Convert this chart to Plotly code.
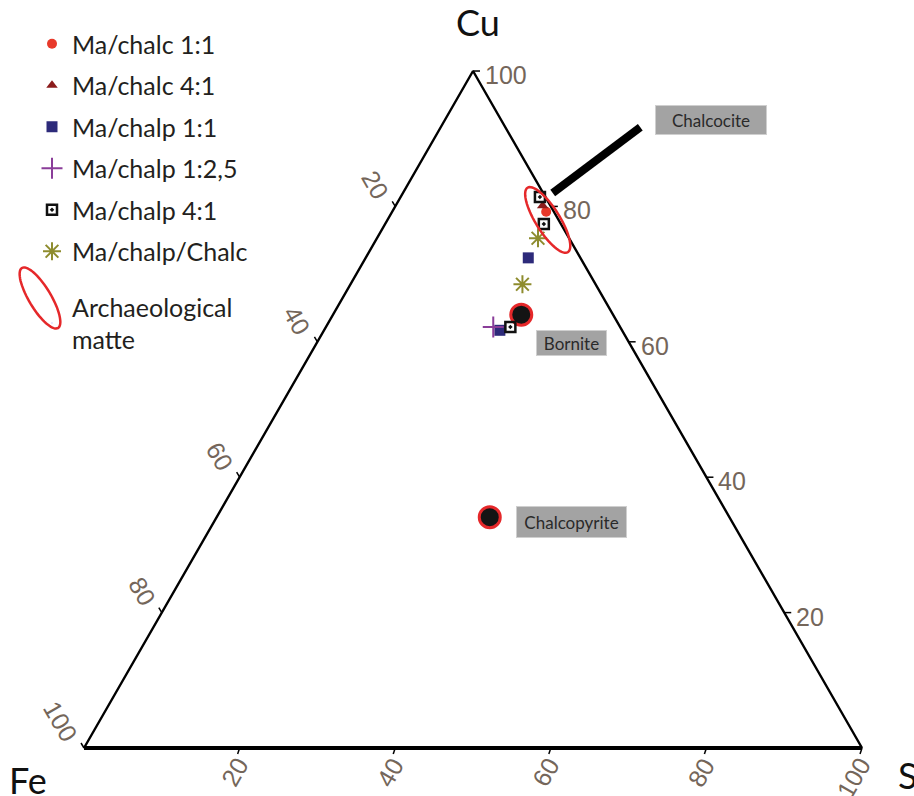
"""
Cu-Fe-S ternary diagram: experimental mattes vs. mineral compositions
"""

import numpy as np
import plotly.graph_objects as go

# -----------------------------------------
# DATA  (wt % Cu / Fe / S)
# -----------------------------------------
chalc_1_1_cu = [79.2]
chalc_1_1_fe = [1.0]
chalc_1_1_s = [19.8]

chalc_4_1_cu = [80.1]
chalc_4_1_fe = [1.0]
chalc_4_1_s = [18.9]

chalp_1_1_cu = [72.4, 61.7]
chalp_1_1_fe = [6.7, 15.7]
chalp_1_1_s = [20.9, 22.6]

chalp_1_25_cu = [62.2]
chalp_1_25_fe = [16.3]
chalp_1_25_s = [21.5]

chalp_4_1_cu = [81.4, 77.4, 62.2]
chalp_4_1_fe = [0.7, 2.2, 14.1]
chalp_4_1_s = [17.9, 20.4, 23.7]

chalp_chalc_cu = [75.3, 68.5]
chalp_chalc_fe = [4.0, 9.4]
chalp_chalc_s = [20.7, 22.1]

# reference minerals
mineral_names = ["Bornite", "Chalcopyrite"]
mineral_cu = [64.0, 34.1]
mineral_fe = [11.8, 30.8]
mineral_s = [24.2, 35.1]

# archaeological matte field (centre of the ellipse)
matte_cu = 78.0
matte_s = 20.6

tick_values = [20, 40, 60, 80, 100]
tick_labels = ["20", "40", "60", "80", "100"]

# -----------------------------------------
# SETTINGS
# -----------------------------------------
W, H = 914, 796
X_RANGE = [-10.80, 106.68]
Y_RANGE = [-7.09, 110.49]
KX = W / (X_RANGE[1] - X_RANGE[0])   # px per x unit
KY = H / (Y_RANGE[1] - Y_RANGE[0])   # px per y unit

TEXT_FONT = "Lato"
TICK_FONT = dict(family="Liberation Sans, Arial", size=25, color="#74665a")
LABEL_FONT = dict(family=TEXT_FONT, size=17, color="#2a2a2a")
RED = "#e5282a"


def to_xy(cu, s):
    """Cu at the top, Fe bottom-left, S bottom-right."""
    cu = np.asarray(cu, dtype=float)
    s = np.asarray(s, dtype=float)
    return s + cu / 2, cu


def shift(x, y, dx_px, dy_px):
    """move a data point by screen pixels (dy down)"""
    return x + dx_px / KX, y - dy_px / KY


def ellipse_path(cx, cy, a_px, b_px, angle_deg, to_ref):
    t = np.linspace(0, 2 * np.pi, 73)
    th = np.radians(angle_deg)
    dx = a_px * np.cos(t) * np.cos(th) - b_px * np.sin(t) * np.sin(th)
    dy = a_px * np.cos(t) * np.sin(th) + b_px * np.sin(t) * np.cos(th)
    xs, ys = to_ref(cx, cy, dx, dy)
    return "M" + "L".join(f"{x:.4f},{y:.4f}" for x, y in zip(xs, ys)) + "Z"


fig = go.Figure()

# -----------------------------------------
# Triangle frame + ticks
# -----------------------------------------
apex = to_xy(100, 0)
fe_corner = to_xy(0, 0)
s_corner = to_xy(0, 100)

fig.add_trace(go.Scatter(
    x=[fe_corner[0], apex[0], s_corner[0]],
    y=[fe_corner[1], apex[1], s_corner[1]],
    mode="lines", line=dict(color="black", width=2.4),
    showlegend=False, hoverinfo="skip"
))
fig.add_trace(go.Scatter(
    x=[fe_corner[0], s_corner[0]], y=[fe_corner[1], s_corner[1]],
    mode="lines", line=dict(color="black", width=4),
    showlegend=False, hoverinfo="skip"
))

tx, ty = [], []
for v in tick_values:
    # Cu ticks on the right edge
    x0, y0 = to_xy(v, 100 - v)
    x1, y1 = shift(x0, y0, 7, 0)
    tx += [x0, x1, None]
    ty += [y0, y1, None]
    # S ticks on the bottom edge
    x0, y0 = to_xy(0, v)
    x1, y1 = shift(x0, y0, -2, 6)
    tx += [x0, x1, None]
    ty += [y0, y1, None]
    # Fe ticks on the left edge
    x0, y0 = to_xy(100 - v, 0)
    x1, y1 = shift(x0, y0, -3, -5)
    tx += [x0, x1, None]
    ty += [y0, y1, None]

fig.add_trace(go.Scatter(
    x=tx, y=ty, mode="lines", line=dict(color="black", width=1.5),
    showlegend=False, hoverinfo="skip"
))

annotations = []
for v, lab in zip(tick_values, tick_labels):
    L = 14 * len(lab)
    # right edge (Cu), upright
    x, y = to_xy(v, 100 - v)
    annotations.append(dict(x=float(x), y=float(y), text=lab, showarrow=False,
                            xanchor="left", yanchor="middle", xshift=10, yshift=-4,
                            font=TICK_FONT))
    # bottom edge (S), rotated
    x, y = to_xy(0, v)
    dx, dy = 2 - L / 4, 12 + 0.433 * L
    annotations.append(dict(x=float(x), y=float(y), text=lab, showarrow=False,
                            textangle=-60, xanchor="center", yanchor="middle",
                            xshift=dx, yshift=-dy, font=TICK_FONT))
    # left edge (Fe), rotated
    x, y = to_xy(100 - v, 0)
    dx, dy = -13 - L / 4, -9 - 0.433 * L
    annotations.append(dict(x=float(x), y=float(y), text=lab, showarrow=False,
                            textangle=60, xanchor="center", yanchor="middle",
                            xshift=dx, yshift=-dy, font=TICK_FONT))

# corner titles
title_font = dict(family=TEXT_FONT, size=36, color="#111111")
annotations += [
    dict(x=float(apex[0]), y=float(apex[1]), text="Cu", showarrow=False,
         xshift=5, yshift=49, font=title_font),
    dict(x=float(fe_corner[0]), y=float(fe_corner[1]), text="Fe", showarrow=False,
         xshift=-56, yshift=-32, font=title_font),
    dict(x=float(s_corner[0]), y=float(s_corner[1]), text="S", showarrow=False,
         xshift=46, yshift=-27, font=title_font),
]

# -----------------------------------------
# Reference minerals (big black dots)
# -----------------------------------------
mx, my = to_xy(mineral_cu, mineral_s)
fig.add_trace(go.Scatter(
    x=mx, y=my, mode="markers",
    marker=dict(symbol="circle", size=21, color="#141414",
                line=dict(color=RED, width=3)),
    text=mineral_names, showlegend=False,
    hovertemplate="%{text}<extra></extra>"
))

# -----------------------------------------
# Matte series
# -----------------------------------------
series = [
    ("Ma/chalc 1:1", chalc_1_1_cu, chalc_1_1_s,
     dict(symbol="circle", size=10, color="#e8392a")),
    ("Ma/chalc 4:1", chalc_4_1_cu, chalc_4_1_s,
     dict(symbol="triangle-up", size=10, color="#8b1c1c")),
    ("Ma/chalp 1:1", chalp_1_1_cu, chalp_1_1_s,
     dict(symbol="square", size=11, color="#2d2a7a")),
    ("Ma/chalp 1:2,5", chalp_1_25_cu, chalp_1_25_s,
     dict(symbol="cross-thin-open", size=15, color="#8a3d99", line=dict(width=2))),
    ("Ma/chalp 4:1", chalp_4_1_cu, chalp_4_1_s,
     dict(symbol="square-open-dot", size=10, color="#111111", line=dict(width=2.5))),
    ("Ma/chalp/Chalc", chalp_chalc_cu, chalp_chalc_s,
     dict(symbol="asterisk-open", size=15, color="#8e8c2e", line=dict(width=2))),
]

for name, cu, s, marker in series:
    x, y = to_xy(cu, s)
    fig.add_trace(go.Scatter(
        x=x, y=y, mode="markers", name=name, marker=marker,
        legendgroup=name, legend="legend",
        hovertemplate=name + "<br>Cu %{y:.1f}<extra></extra>"
    ))

# legend entry for the ellipse (icon drawn as a shape below)
fig.add_trace(go.Scatter(
    x=[None], y=[None], mode="markers", marker=dict(opacity=0, size=2),
    name="Archaeological<br>matte", legend="legend2"
))

# -----------------------------------------
# Shapes: matte ellipse, pointer line
# -----------------------------------------
cx, cy = to_xy(matte_cu, matte_s)


def data_ref(cx, cy, dx, dy):
    return cx + dx / KX, cy - dy / KY


def paper_ref(cx, cy, dx, dy):
    return (cx + dx) / W, 1 - (cy + dy) / H


tip = shift(*to_xy(matte_cu, matte_s), 5, -27)
tail = (71.5, 91.7)

shapes = [
    dict(type="path", xref="x", yref="y", layer="above",
         path=ellipse_path(float(cx), float(cy), 38, 12, 58, data_ref),
         line=dict(color=RED, width=2.5)),
    dict(type="line", xref="x", yref="y", layer="above",
         x0=float(tip[0]), y0=float(tip[1]), x1=tail[0], y1=tail[1],
         line=dict(color="black", width=8)),
    # legend icon
    dict(type="path", xref="paper", yref="paper", layer="above",
         path=ellipse_path(40, 298, 35, 11, 59, paper_ref),
         line=dict(color=RED, width=2.5)),
]

# mineral labels (grey boxes)
label_box = dict(showarrow=False, bgcolor="#a3a3a3", bordercolor="#cfcfcf",
                 borderwidth=1, borderpad=0, font=LABEL_FONT)
annotations += [
    dict(x=80.6, y=92.8, text="Chalcocite", width=110, height=28, **label_box),
    dict(x=62.7, y=59.8, text="Bornite", width=69, height=24, **label_box),
    dict(x=62.6, y=33.4, text="Chalcopyrite", width=109, height=30, **label_box),
]

# -----------------------------------------
# Layout
# -----------------------------------------
legend_style = dict(
    xanchor="left", yanchor="top", bgcolor="rgba(0,0,0,0)", borderwidth=0,
    font=dict(family=TEXT_FONT, size=25, color="#231f20"),
)

fig.update_layout(
    width=W, height=H,
    margin=dict(l=0, r=0, t=0, b=0),
    paper_bgcolor="white", plot_bgcolor="white",
    xaxis=dict(range=X_RANGE, visible=False, fixedrange=True),
    yaxis=dict(range=Y_RANGE, visible=False, fixedrange=True),
    legend=dict(x=32 / W, y=1 - 21 / H, tracegroupgap=6, **legend_style),
    legend2=dict(x=32 / W, y=1 - 284 / H, **legend_style),
    shapes=shapes,
    annotations=annotations,
)

# page body has a default 8px margin; drop it so the figure sits at 0,0
fig.write_html("out.html", config={"displayModeBar": False},
               post_script="document.body.style.margin='0';")
